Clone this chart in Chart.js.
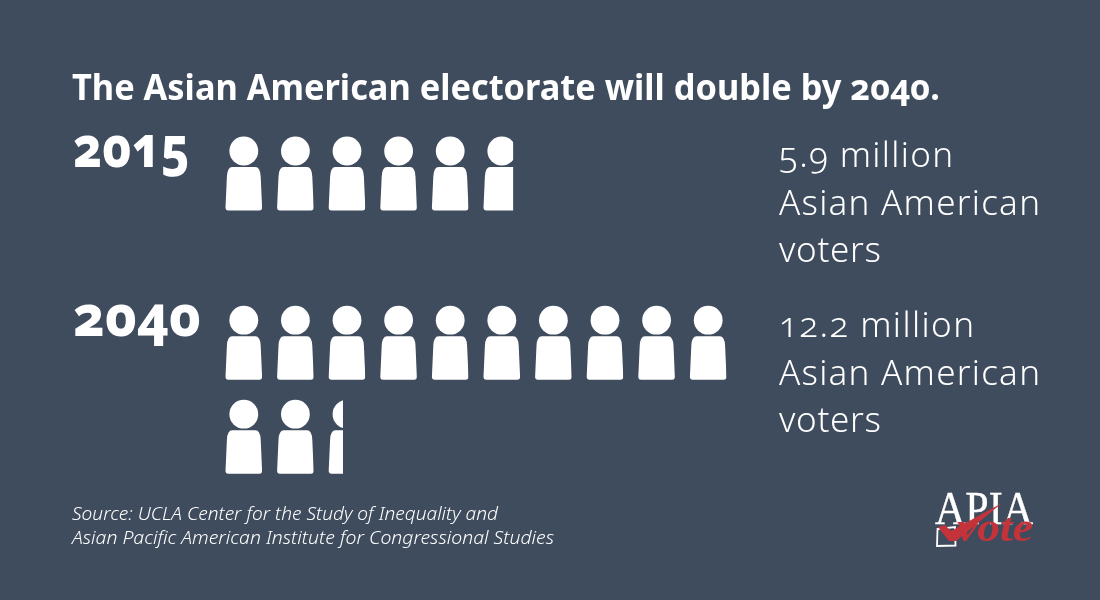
<!DOCTYPE html>
<html><head><meta charset="utf-8">
<script src="https://cdn.jsdelivr.net/npm/chart.js@4"></script>
<style>
html,body{margin:0;padding:0;background:#3f4c5e}
#wrap{position:relative;width:1100px;height:600px;overflow:hidden}
#c{position:absolute;left:0;top:0}
#ov{position:absolute;left:0;top:0}
text{font-family:"Noto Sans","Open Sans",sans-serif;fill:#fff;font-variant-numeric:oldstyle-nums;font-feature-settings:"onum" 1}
</style></head><body>
<div id="wrap"><canvas id="c" width="1100" height="600"></canvas>
<svg id="ov" width="1100" height="600" xmlns="http://www.w3.org/2000/svg"></svg></div>
<script>
const titleText = "The Asian American electorate will double by 2040.";
const categories = ["2015", "2040"];
const voterLabels = ["5.9 million", "12.2 million"];
const voterSuffix = ["Asian American", "voters"];
const iconsShown = [5.81, 12.39];
const rowStart = [0, 1.8];
const iconsPerRow = 10;
const sourceLines = ["Source: UCLA Center for the Study of Inequality and",
  "Asian Pacific American Institute for Congressional Studies"];

function iconImage(fraction) {
  const w = 20 - 18.3 + 36.6 * fraction;
  const src = `<svg xmlns="http://www.w3.org/2000/svg" width="40" height="76" viewBox="0 0 40 76">
    <clipPath id="k"><rect x="0" y="0" width="${w}" height="76"/></clipPath>
    <g clip-path="url(#k)" fill="#fff"><circle cx="20" cy="15.5" r="14.4"/>
    <path d="M8.5 31.5H31.5Q36.5 31.5 36.9 41L38.3 72Q38.3 75 35.5 75H4.5Q1.7 75 1.7 72L3.1 41Q3.5 31.5 8.5 31.5Z"/></g></svg>`;
  const img = new Image(40, 76);
  img.src = "data:image/svg+xml," + encodeURIComponent(src);
  return img;
}

function buildPoints(total, start) {
  const pts = [];
  for (let i = 0; i < Math.ceil(total); i++) {
    pts.push({ x: i % iconsPerRow, y: start + Math.floor(i / iconsPerRow), f: Math.min(1, total - i) });
  }
  return pts;
}

const fullIcon = iconImage(1);
const datasets = categories.map((name, k) => {
  const points = buildPoints(iconsShown[k], rowStart[k]);
  return { label: name, data: points, showLine: false, pointRadius: 18, clip: false,
    pointStyle: points.map(p => p.f >= 1 ? fullIcon : iconImage(p.f)) };
});
const allImages = datasets.flatMap(d => d.pointStyle);

Promise.all(allImages.map(i => i.decode())).then(() => {
  new Chart(document.getElementById("c"), {
    type: "scatter",
    data: { datasets },
    options: {
      responsive: false, animation: false, events: [],
      layout: { padding: 0, autoPadding: false },
      plugins: { legend: { display: false }, tooltip: { enabled: false } },
      scales: {
        x: { type: "linear", display: false, min: -243.8 / 51.6, max: 856.2 / 51.6 },
        y: { type: "linear", display: false, reverse: true, min: -173.5 / 94, max: 426.5 / 94 }
      }
    }
  });
});

const svg = document.getElementById("ov");
function T(s, x, y, size, weight, len, extra) {
  const t = document.createElementNS("http://www.w3.org/2000/svg", "text");
  t.textContent = s;
  t.setAttribute("x", x); t.setAttribute("y", y);
  t.setAttribute("font-size", size); t.setAttribute("font-weight", weight);
  if (len) { t.setAttribute("textLength", len); t.setAttribute("lengthAdjust", "spacingAndGlyphs"); }
  if (extra) for (const k in extra) t.setAttribute(k, extra[k]);
  svg.appendChild(t);
  return t;
}
const sp = { "lengthAdjust": "spacing" };
T(titleText, 72, 100, 36, 700, 868);
T(categories[0], 73, 167, 57, 800, 117);
T(categories[1], 73, 336, 57, 800, 128);
T(voterLabels[0], 779, 167, 35, 300, 174, sp);
T(voterSuffix[0], 779, 214.5, 35, 300, 261, sp);
T(voterSuffix[1], 779, 262, 35, 300, 102, sp);
T(voterLabels[1], 779, 337, 35, 300, 195, sp);
T(voterSuffix[0], 779, 384.5, 35, 300, 261, sp);
T(voterSuffix[1], 779, 432, 35, 300, 102, sp);
T(sourceLines[0], 72, 520, 18, 300, 426, { "font-style": "italic" });
T(sourceLines[1], 72, 544, 18, 300, 482, { "font-style": "italic" });
// logo
T("APIA", 935, 524, 47, 400, 98, { style: "font-family:'Liberation Serif';font-variant-numeric:normal;stroke:#fff;stroke-width:.4" });
T("vote", 957, 541, 40, 700, 76, { style: "font-family:'Liberation Serif';font-style:italic;fill:#c5333a" });
const box = document.createElementNS("http://www.w3.org/2000/svg", "path");
box.setAttribute("d", "M937.5 529L955 527L955.5 545.5L937 546Z"); box.setAttribute("fill", "none");
box.setAttribute("stroke", "#fff"); box.setAttribute("stroke-width", "1.8");
svg.appendChild(box);
const check = document.createElementNS("http://www.w3.org/2000/svg", "path");
check.setAttribute("d", "M938 527L945 525L951 531L1002 503L956 541L949 541Z");
check.setAttribute("fill", "#c5333a");
svg.appendChild(check);
</script>
</body></html>
